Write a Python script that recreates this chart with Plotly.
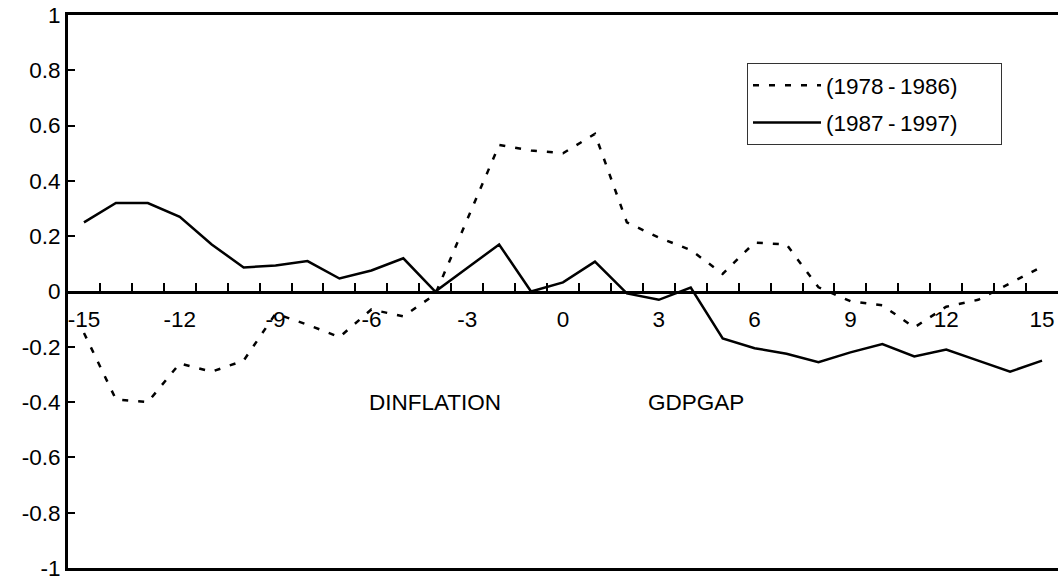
import plotly.graph_objects as go

# Lags / leads of the cross-correlation
lags = list(range(-15, 16))

# Correlation, 1978-1986 sample
corr_1978_1986 = [-0.15, -0.39, -0.40, -0.26, -0.29, -0.25, -0.08, -0.12, -0.165, -0.065,
                  -0.09, -0.01, 0.26, 0.53, 0.51, 0.50, 0.57, 0.25, 0.195, 0.15,
                  0.064, 0.177, 0.17, 0.015, -0.035, -0.05, -0.13, -0.055, -0.03, 0.03, 0.09]

# Correlation, 1987-1997 sample
corr_1987_1997 = [0.25, 0.32, 0.32, 0.27, 0.17, 0.087, 0.094, 0.11, 0.047, 0.076,
                  0.12, 0.0, 0.085, 0.17, 0.0, 0.033, 0.108, -0.007, -0.03, 0.014,
                  -0.17, -0.205, -0.225, -0.256, -0.22, -0.19, -0.235, -0.21, -0.25, -0.29, -0.25]

series_names = ["(1978\u2009-\u20091986)", "(1987\u2009-\u20091997)"]

x_label_vals = [-15, -12, -9, -6, -3, 0, 3, 6, 9, 12, 15]
x_label_text = ["-15", "-12", "-9", "-6", "-3", "0", "3", "6", "9", "12", "15"]
x_tick_bounds = [v + 0.5 for v in range(-15, 15)]

y_tick_vals = [-1, -0.8, -0.6, -0.4, -0.2, 0, 0.2, 0.4, 0.6, 0.8, 1]
y_tick_text = ["-1", "-0.8", "-0.6", "-0.4", "-0.2", "0", "0.2", "0.4", "0.6", "0.8", "1"]

FONT = "Liberation Sans, Arial, sans-serif"
FS = 22.5

# trailing no-break spaces keep the legend box wide
pad = "\u00a0" * 6

fig = go.Figure()
fig.add_trace(go.Scatter(x=lags, y=corr_1978_1986, mode="lines", name=series_names[0] + pad,
                         legendgroup="a",
                         line=dict(color="black", width=2.5, dash="6px,10px")))
fig.add_trace(go.Scatter(x=lags, y=corr_1987_1997, mode="lines", name=series_names[1] + pad,
                         legendgroup="b",
                         line=dict(color="black", width=2.5)))

# empty helpers so the overlay axes are built
fig.add_trace(go.Scatter(x=[None], y=[None], xaxis="x2", showlegend=False, hoverinfo="skip"))
fig.add_trace(go.Scatter(x=[None], y=[None], xaxis="x3", showlegend=False, hoverinfo="skip"))

xr = [-15.5, 15.5]
fig.update_layout(
    width=1058, height=580,
    margin=dict(l=68, r=0, t=15, b=12),
    paper_bgcolor="white", plot_bgcolor="white",
    font=dict(family=FONT, size=FS, color="black"),
    xaxis=dict(range=xr, showline=True, linewidth=3, linecolor="black", mirror=True,
               ticks="", showticklabels=False, showgrid=False, zeroline=False),
    xaxis2=dict(range=xr, overlaying="x", anchor="free", position=0.5,
                showline=True, linewidth=2.5, linecolor="black",
                tickmode="array", tickvals=x_tick_bounds, ticks="inside",
                ticklen=8, tickwidth=2, tickcolor="black",
                showticklabels=False, showgrid=False, zeroline=False),
    xaxis3=dict(range=xr, overlaying="x", anchor="free", position=0.5,
                showline=False, ticks="", tickmode="array",
                tickvals=x_label_vals, ticktext=x_label_text,
                tickfont=dict(family=FONT, size=FS, color="black"),
                ticklabelstandoff=12, showgrid=False, zeroline=False),
    yaxis=dict(range=[-1, 1], showline=True, linewidth=3, linecolor="black", mirror=False,
               tickmode="array", tickvals=y_tick_vals, ticktext=y_tick_text,
               ticks="inside", ticklen=7, tickwidth=2, tickcolor="black",
               tickfont=dict(family=FONT, size=FS, color="black"),
               ticklabeloverflow="allow",
               showgrid=False, zeroline=False),
    legend=dict(x=(747 - 68) / 990, y=(568 - 63) / 553, xanchor="left", yanchor="top",
                bordercolor="#333333", borderwidth=1, bgcolor="white",
                font=dict(family=FONT, size=FS, color="black"),
                tracegroupgap=5, itemwidth=68),
    showlegend=True,
)

fig.add_annotation(x=-4, y=-0.4, text="DINFLATION", showarrow=False,
                   font=dict(family=FONT, size=FS, color="black"))
fig.add_annotation(x=4.15, y=-0.4, text="GDPGAP", showarrow=False,
                   font=dict(family=FONT, size=FS, color="black"))

fig.write_html("out.html")
